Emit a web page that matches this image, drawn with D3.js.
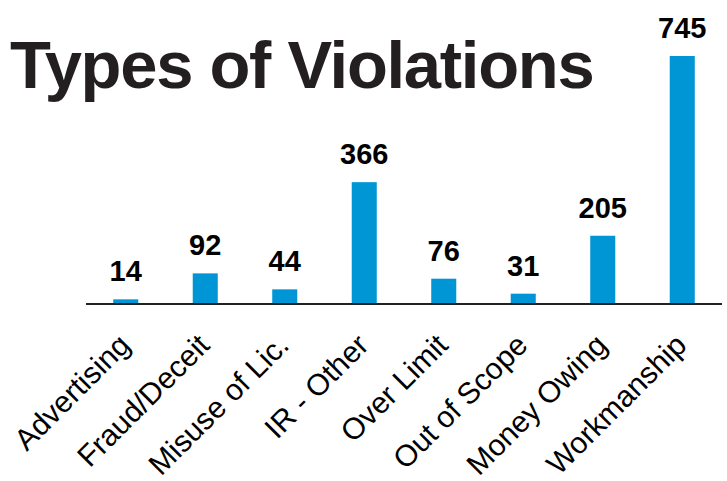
<!DOCTYPE html>
<html>
<head>
<meta charset="utf-8">
<script src="https://cdn.jsdelivr.net/npm/d3@7"></script>
<style>
  html, body { margin: 0; padding: 0; background: #fff; }
  svg { display: block; font-family: "Liberation Sans", Arial, sans-serif; }
</style>
</head>
<body>
<div id="viz"></div>
<script>
const width = 727;
const height = 481;
const margin = {top: 56, right: 5, bottom: 177, left: 86};

const categories = ['Advertising', 'Fraud/Deceit', 'Misuse of Lic.', 'IR - Other',
  'Over Limit', 'Out of Scope', 'Money Owing', 'Workmanship'];
const counts = [14, 92, 44, 366, 76, 31, 205, 745];

const data = categories.map((c, i) => ({ category: c, count: counts[i] }));

const svg = d3.select('#viz')
  .append('svg')
    .attr('viewBox', [0, 0, width, height])
    .attr('width', width)
    .attr('height', height);

// x: one band per violation type
const xScale = d3.scaleBand()
  .domain(categories)
  .range([margin.left, width - margin.right])
  .paddingInner(0.685)
  .paddingOuter(0.3425);

const yScale = d3.scaleLinear()
  .domain([0, d3.max(counts)])
  .range([height - margin.bottom, margin.top]);

// Title
svg.append('text')
    .attr('x', 10)
    .attr('y', 88)
    .attr('fill', '#231f20')
    .style('font-size', '67px')
    .style('font-weight', 'bold')
    .style('letter-spacing', '-1.3px')
    .text('Types of Violations');

// Bars
svg.append('g')
    .attr('class', 'bars')
  .selectAll('rect')
  .data(data)
  .join('rect')
    .attr('x', d => xScale(d.category))
    .attr('y', d => yScale(d.count))
    .attr('width', xScale.bandwidth())
    .attr('height', d => yScale(0) - yScale(d.count))
    .attr('fill', '#0096d6');

// Value labels above bars
svg.append('g')
    .attr('class', 'values')
  .selectAll('text')
  .data(data)
  .join('text')
    .attr('x', d => xScale(d.category) + xScale.bandwidth() / 2)
    .attr('y', d => yScale(d.count) - 18)
    .attr('text-anchor', 'middle')
    .attr('fill', '#000')
    .style('font-size', '29px')
    .style('font-weight', 'bold')
    .text(d => d.count);

// x axis: baseline plus rotated category labels
const xAxis = d3.axisBottom(xScale)
  .tickSize(0)
  .tickSizeOuter(0);

const xAxisGroup = svg.append('g')
    .attr('class', 'x-axis-group')
    .attr('transform', `translate(0, ${yScale(0)})`)
    .call(xAxis);

xAxisGroup.select('.domain')
    .attr('stroke', '#222')
    .attr('stroke-width', 2)
    .attr('d', `M${margin.left},0H${width - margin.right}`);

xAxisGroup.selectAll('.tick text')
    .attr('x', 0)
    .attr('y', 0)
    .attr('dy', 0)
    .attr('text-anchor', 'end')
    .attr('transform', 'translate(6, 43) rotate(-45)')
    .attr('fill', '#000')
    .style('font-size', '30px')
    .style('font-family', '"Liberation Sans", Arial, sans-serif');
</script>
</body>
</html>
